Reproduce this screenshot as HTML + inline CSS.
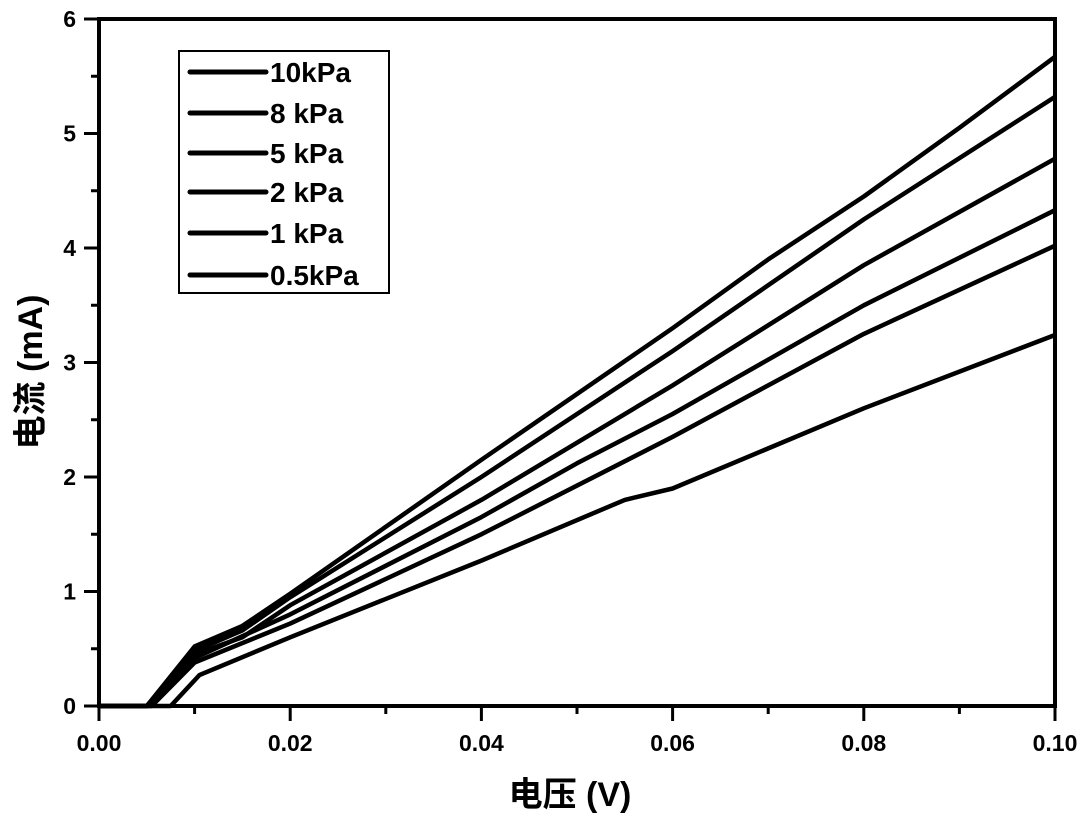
<!DOCTYPE html>
<html><head><meta charset="utf-8"><style>
html,body{margin:0;padding:0;background:#fff;width:1084px;height:817px;overflow:hidden}
text{font-family:"Liberation Sans","Noto Sans CJK SC",sans-serif;font-weight:bold;fill:#000}
</style></head><body>
<svg id="s" width="1084" height="817" viewBox="0 0 1084 817" xmlns="http://www.w3.org/2000/svg">
<g id="curves" fill="none" stroke="#000" stroke-width="4.5" stroke-linejoin="round"></g>
<rect x="99" y="19" width="956" height="687" fill="none" stroke="#000" stroke-width="4"/>
<g id="ticks" stroke="#000" stroke-width="3"></g>
<g id="lbl" font-size="23"></g>
<rect x="179" y="51" width="210" height="242" fill="#fff" stroke="#000" stroke-width="2"/>
<g stroke="#000" stroke-width="5" stroke-linecap="round">
<line x1="190" y1="72" x2="266" y2="72"/><line x1="190" y1="113" x2="266" y2="113"/>
<line x1="190" y1="153" x2="266" y2="153"/><line x1="190" y1="192" x2="266" y2="192"/>
<line x1="190" y1="233" x2="266" y2="233"/><line x1="190" y1="275" x2="266" y2="275"/>
</g>
<g font-size="28">
<text x="270" y="82">10kPa</text><text x="270" y="123">8 kPa</text>
<text x="270" y="163">5 kPa</text><text x="270" y="202">2 kPa</text>
<text x="270" y="243">1 kPa</text><text x="270" y="285">0.5kPa</text>
</g>
<text x="570" y="806" font-size="34" text-anchor="middle">电压 (V)</text>
<text transform="translate(42,372) rotate(-90)" font-size="34" text-anchor="middle">电流 (mA)</text>
</svg>
<script>
var X=function(v){return 99+v*9560},Y=function(i){return 706-i*114.5};
var ns="http://www.w3.org/2000/svg";
var data=[
[[0,0],[0.005,0],[0.01,0.52],[0.015,0.7],[0.02,0.98],[0.04,2.15],[0.06,3.3],[0.07,3.9],[0.08,4.45],[0.09,5.05],[0.1,5.67]],
[[0,0],[0.005,0],[0.01,0.48],[0.015,0.66],[0.02,0.95],[0.04,2.0],[0.06,3.1],[0.08,4.25],[0.1,5.32]],
[[0,0],[0.005,0],[0.01,0.45],[0.015,0.6],[0.02,0.88],[0.04,1.8],[0.06,2.8],[0.08,3.85],[0.1,4.78]],
[[0,0],[0.005,0],[0.01,0.42],[0.02,0.8],[0.04,1.65],[0.05,2.12],[0.06,2.55],[0.08,3.5],[0.1,4.33]],
[[0,0],[0.0055,0],[0.01,0.38],[0.02,0.72],[0.04,1.5],[0.06,2.35],[0.08,3.25],[0.1,4.02]],
[[0,0],[0.0075,0],[0.0105,0.27],[0.02,0.6],[0.04,1.27],[0.055,1.8],[0.06,1.9],[0.08,2.6],[0.1,3.24]]];
var g=document.getElementById('curves');
data.forEach(function(d){var p=document.createElementNS(ns,'path');
p.setAttribute('d','M'+d.map(function(q){return X(q[0]).toFixed(1)+','+Y(q[1]).toFixed(1)}).join('L'));g.appendChild(p);});
var t=document.getElementById('ticks'),l=document.getElementById('lbl');
function line(a,b,c,d){var e=document.createElementNS(ns,'line');e.setAttribute('x1',a);e.setAttribute('y1',b);e.setAttribute('x2',c);e.setAttribute('y2',d);t.appendChild(e);}
function txt(x,y,s,a){var e=document.createElementNS(ns,'text');e.setAttribute('x',x);e.setAttribute('y',y);e.setAttribute('text-anchor',a);e.textContent=s;l.appendChild(e);}
for(var i=0;i<=12;i++){var y=Y(i/2);line(i%2?91:84,y,99,y);if(i%2==0)txt(76,y+8,''+(i/2),'end');}
for(var i=0;i<=10;i++){var x=X(i/100);line(x,706,x,i%2?714:721);if(i%2==0)txt(x,751,(i/100).toFixed(2),'middle');}
</script>
</body></html>
